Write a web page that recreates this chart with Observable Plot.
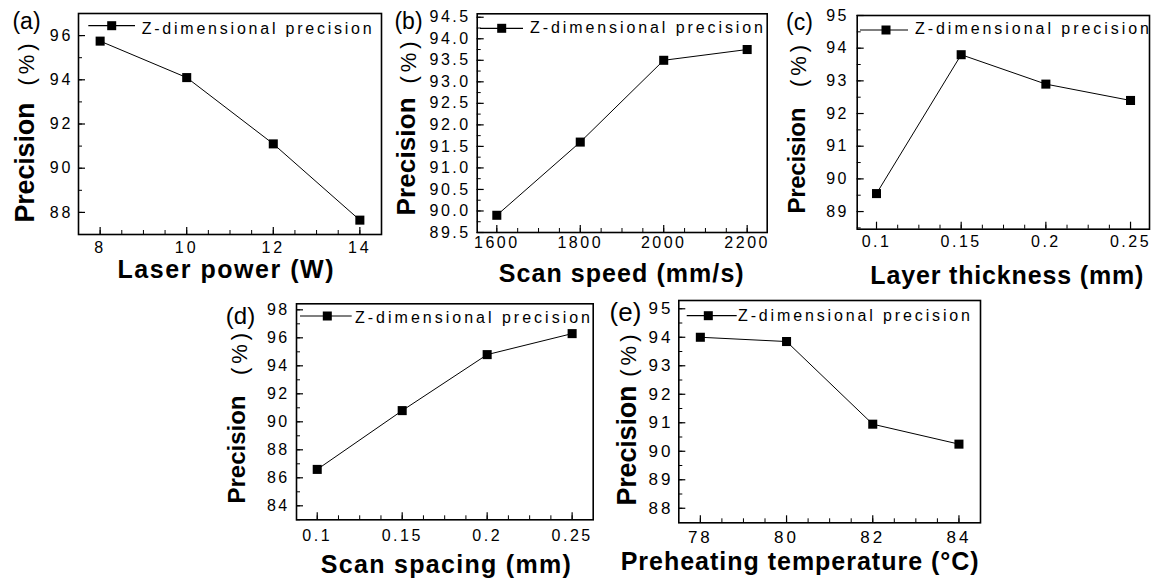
<!DOCTYPE html>
<html>
<head>
<meta charset="utf-8">
<script src="https://cdn.jsdelivr.net/npm/d3@7"></script>
<script src="https://cdn.jsdelivr.net/npm/@observablehq/plot@0.6"></script>
<style>
  html, body { margin: 0; padding: 0; background: #fff; }
  body { width: 1154px; height: 578px; position: relative; overflow: hidden;
         font-family: "Liberation Sans", Arial, sans-serif; }
  .panel { position: absolute; }
  .panel svg { overflow: visible; display: block; }
</style>
</head>
<body>
<div id="pa" class="panel" style="left:0px;top:0px"></div>
<div id="pb" class="panel" style="left:385px;top:0px"></div>
<div id="pc" class="panel" style="left:770px;top:0px"></div>
<div id="pd" class="panel" style="left:220px;top:290px"></div>
<div id="pe" class="panel" style="left:595px;top:290px"></div>
<script>
// ---------- data ----------
const seriesName = "Z-dimensional precision";
const yTitle = "Precision";
const yUnit = "(%)";

const laserPower = [8, 10, 12, 14];
const precisionLaser = [95.75, 94.1, 91.1, 87.65];

const scanSpeed = [1600, 1800, 2000, 2200];
const precisionSpeed = [89.9, 91.6, 93.5, 93.75];

const layerThickness = [0.1, 0.15, 0.2, 0.25];
const precisionLayer = [89.55, 93.8, 92.9, 92.4];

const scanSpacing = [0.1, 0.15, 0.2, 0.25];
const precisionSpacing = [86.6, 90.8, 94.8, 96.3];

const preheatTemp = [78, 80, 82, 84];
const precisionPreheat = [94.0, 93.85, 90.95, 90.25];

// tick labels
const xTicksA = [8, 10, 12, 14];
const yTicksA = [88, 90, 92, 94, 96];
const xTicksB = [1600, 1800, 2000, 2200];
const yTicksB = [89.5, 90, 90.5, 91, 91.5, 92, 92.5, 93, 93.5, 94, 94.5];
const xTicksC = [0.1, 0.15, 0.2, 0.25];
const yTicksC = [89, 90, 91, 92, 93, 94, 95];
const xTicksD = [0.1, 0.15, 0.2, 0.25];
const yTicksD = [84, 86, 88, 90, 92, 94, 96, 98];
const xTicksE = [78, 80, 82, 84];
const yTicksE = [88, 89, 90, 91, 92, 93, 94, 95];

const tags = ["(a)", "(b)", "(c)", "(d)", "(e)"];
const xTitles = ["Laser power (W)", "Scan speed (mm/s)", "Layer thickness (mm)", "Scan spacing (mm)", "Preheating temperature (°C)"];

// ---------- layout ----------
const FONT = '"Liberation Sans", Arial, sans-serif';
const panels = [
  {id: "pa", x: laserPower, y: precisionLaser, tag: tags[0], xTitle: xTitles[0],
   w: 385, h: 290, ml: 78, mr: 4, mt: 13, mb: 56,
   xDomain: [7.5, 14.5], yDomain: [87, 97],
   xTicks: xTicksA, yTicks: yTicksA, xMinor: d3.range(8, 14.01, 0.5), yMinor: d3.range(87, 97.01, 1),
   xFmt: d3.format("d"), yFmt: d3.format("d"),
   tickFs: 16, tickLs: 3, xPad: 7, yGap: 8,
   xt: {dx: -4.5, dy: 35, len: 216},
   yt: {dx: -53.6, dy: 38.5, fs: 27, len: 120, udy: -61.5},
   tg: {dx: -52, dy: 8.5, fs: 23},
   leg: [10.3, 57, 12.7, 33.7, 63.7, 21, 230]},
  {id: "pb", x: scanSpeed, y: precisionSpeed, tag: tags[1], xTitle: xTitles[1],
   w: 385, h: 290, ml: 91.7, mr: 3.3, mt: 13.3, mb: 58,
   xDomain: [1553, 2248], yDomain: [89.5, 94.58],
   xTicks: xTicksB, yTicks: yTicksB, xMinor: d3.range(1600, 2201, 50), yMinor: d3.range(89.5, 94.6, 0.25),
   xFmt: d3.format("d"), yFmt: d3.format(".1f"),
   tickFs: 16, tickLs: 2.5, xPad: 4, yGap: 9,
   xt: {dx: -1, dy: 41, len: 245},
   yt: {dx: -70.3, dy: 33.3, fs: 26, len: 118, udy: -62.7},
   tg: {dx: -68.7, dy: 7.7, fs: 23},
   leg: [3.3, 46.3, 15, 25, 53.3, 19.7, 233]},
  {id: "pc", x: layerThickness, y: precisionLayer, tag: tags[2], xTitle: xTitles[2],
   w: 384, h: 290, ml: 86.7, mr: 5, mt: 15, mb: 61.3,
   xDomain: [0.0886, 0.2612], yDomain: [88.46, 95],
   xTicks: xTicksC, yTicks: yTicksC, xMinor: d3.range(0.1, 0.2501, 0.0125), yMinor: d3.range(88.5, 95.01, 0.5),
   xFmt: (d) => String(d), yFmt: d3.format("d"),
   tickFs: 16, tickLs: 2.5, xPad: 6, yGap: 10.7,
   xt: {dx: 3.5, dy: 47, len: 273},
   yt: {dx: -60.3, dy: 38.2, fs: 24, len: 106, udy: -58.4},
   tg: {dx: -57.7, dy: 7, fs: 23},
   leg: [3.3, 51.3, 15, 29.3, 58.3, 19, 234]},
  {id: "pd", x: scanSpacing, y: precisionSpacing, tag: tags[3], xTitle: xTitles[3],
   w: 375, h: 288, ml: 76, mr: 2.3, mt: 13.3, mb: 58.7,
   xDomain: [0.0878, 0.2624], yDomain: [83, 98.43],
   xTicks: xTicksD, yTicks: yTicksD, xMinor: d3.range(0.1, 0.2501, 0.0125), yMinor: d3.range(83, 98.01, 1),
   xFmt: (d) => String(d), yFmt: d3.format("d"),
   tickFs: 16, tickLs: 2.5, xPad: 10, yGap: 9.3,
   xt: {dx: 1, dy: 45, len: 250},
   yt: {dx: -59, dy: 37.7, fs: 24, len: 108, udy: -59.8},
   tg: {dx: -56, dy: 12.7, fs: 24},
   leg: [4, 55.7, 12.7, 31.3, 59, 19.7, 235]},
  {id: "pe", x: preheatTemp, y: precisionPreheat, tag: tags[4], xTitle: xTitles[4],
   w: 395, h: 288, ml: 83.3, mr: 10, mt: 10, mb: 55.7,
   xDomain: [77.5, 84.5], yDomain: [87.49, 95.29],
   xTicks: xTicksE, yTicks: yTicksE, xMinor: d3.range(78, 84.01, 0.5), yMinor: d3.range(87.5, 95.01, 0.5),
   xFmt: d3.format("d"), yFmt: d3.format("d"),
   tickFs: 17, tickLs: 3, xPad: 8, yGap: 8.3,
   xt: {dx: -30, dy: 39, len: 358},
   yt: {dx: -51.9, dy: 33.85, fs: 27, len: 120, udy: -58},
   tg: {dx: -53.3, dy: 12.5, fs: 26},
   leg: [8.4, 58.4, 15.7, 30, 59.7, 21, 232]}
];

function pick(s, str) {
  return s.selectAll("text").filter(function () { return this.textContent === str; });
}

function draw(p) {
  const data = p.x.map((x, i) => ({x, y: p.y[i]}));
  const fh = p.h - p.mt - p.mb;
  const fw = p.w - p.ml - p.mr;
  const svg = Plot.plot({
    width: p.w, height: p.h,
    marginLeft: p.ml, marginRight: p.mr, marginTop: p.mt, marginBottom: p.mb,
    style: {fontFamily: FONT, background: "transparent", overflow: "visible", color: "#000"},
    x: {domain: p.xDomain, label: null},
    y: {domain: p.yDomain, label: null},
    marks: [
      Plot.ruleX(p.xMinor, {insetTop: fh - 4, stroke: "#000", strokeWidth: 1}),
      Plot.ruleX(p.xTicks, {insetTop: fh - 7, stroke: "#000", strokeWidth: 1.2}),
      Plot.ruleY(p.yMinor, {insetRight: fw - 4, stroke: "#000", strokeWidth: 1}),
      Plot.ruleY(p.yTicks, {insetRight: fw - 7, stroke: "#000", strokeWidth: 1.2}),
      Plot.axisX(p.xTicks, {tickSize: 0, tickPadding: p.xPad, tickFormat: p.xFmt, fontSize: p.tickFs, label: null, fill: "#000"}),
      Plot.axisY(p.yTicks, {tickSize: 0, tickPadding: p.yGap - p.tickLs, tickFormat: p.yFmt, fontSize: p.tickFs, label: null, fill: "#000"}),
      Plot.frame({stroke: "#000", strokeWidth: 1.6}),
      Plot.line(data, {x: "x", y: "y", stroke: "#000", strokeWidth: 1}),
      Plot.dot(data, {x: "x", y: "y", symbol: "square", r: 5.1, fill: "#000", stroke: "none"}),
      Plot.text([p.xTitle], {text: (d) => d, frameAnchor: "bottom", textAnchor: "middle", lineAnchor: "middle",
        dx: p.xt.dx, dy: p.xt.dy, fontSize: 25, fontWeight: "bold", fill: "#000"}),
      Plot.text([yTitle], {text: (d) => d, frameAnchor: "left", textAnchor: "middle", lineAnchor: "middle", rotate: -90,
        dx: p.yt.dx, dy: p.yt.dy, fontSize: p.yt.fs, fontWeight: "bold", fill: "#000"}),
      Plot.text([yUnit], {text: (d) => d, frameAnchor: "left", textAnchor: "middle", lineAnchor: "middle", rotate: -90,
        dx: p.yt.dx + 2, dy: p.yt.udy, fontSize: 22, fontWeight: "normal", fill: "#000"}),
      Plot.text([p.tag], {text: (d) => d, frameAnchor: "top-left", textAnchor: "middle", lineAnchor: "middle",
        dx: p.tg.dx, dy: p.tg.dy, fontSize: p.tg.fs, fill: "#000"})
    ]
  });
  const s = d3.select(svg);
  s.selectAll('g[aria-label$="tick label"] text').attr("letter-spacing", p.tickLs);
  pick(s, p.xTitle).attr("textLength", p.xt.len).attr("lengthAdjust", "spacing");
  pick(s, yTitle).attr("textLength", p.yt.len).attr("lengthAdjust", "spacing");
  pick(s, yUnit).attr("letter-spacing", 4);

  // legend
  const [lx1, lx2, ly, mx, tx, tb, tl] = p.leg;
  const g = s.append("g").attr("aria-label", "legend");
  g.append("line").attr("x1", p.ml + lx1).attr("x2", p.ml + lx2)
    .attr("y1", p.mt + ly).attr("y2", p.mt + ly).attr("stroke", "#000").attr("stroke-width", 1.2);
  g.append("rect").attr("x", p.ml + mx - 4.5).attr("y", p.mt + ly - 4.5)
    .attr("width", 9).attr("height", 9).attr("fill", "#000");
  g.append("text").attr("x", p.ml + tx).attr("y", p.mt + tb).attr("text-anchor", "start")
    .attr("font-size", 16).attr("font-family", FONT).attr("fill", "#000")
    .attr("textLength", tl).attr("lengthAdjust", "spacing").text(seriesName);

  document.getElementById(p.id).appendChild(svg);
}
panels.forEach(draw);
</script>
</body>
</html>
